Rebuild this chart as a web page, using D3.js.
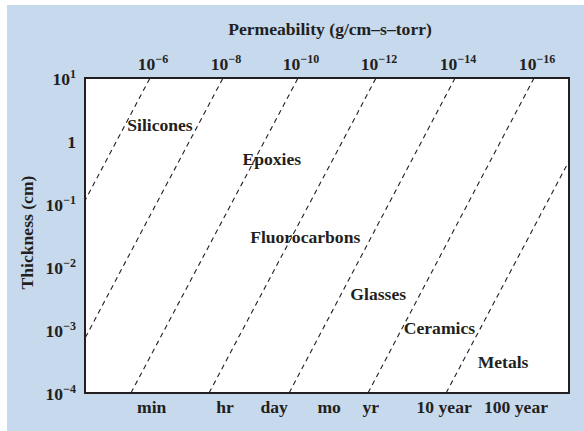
<!DOCTYPE html>
<html>
<head>
<meta charset="utf-8">
<script src="https://cdn.jsdelivr.net/npm/d3@7"></script>
<style>
  html, body { margin: 0; padding: 0; background: #ffffff; }
  svg text { font-family: "Liberation Serif", "Times New Roman", serif; font-weight: bold; fill: #231f20; }
</style>
</head>
<body>
<svg id="chart" width="584" height="431"></svg>
<script>
// ---- data ----
// y axis: thickness (cm), log scale, decades
const thicknessTicks = [10, 1, 0.1, 0.01, 0.001, 0.0001];
const thicknessTickExp = [1, 0, -1, -2, -3, -4];
// x axis: schematic log10(time in seconds)
const timeDomain = [0, 12.33];
const timeLabels = ["min", "hr", "day", "mo", "yr", "10 year", "100 year"];
const timeLabelValues = [1.70, 3.57, 4.82, 6.22, 7.28, 9.15, 10.98];
// permeability iso-lines (g/cm-s-torr)
const permeabilityExp = [-6, -8, -10, -12, -14, -16, -18];
const permeabilityLabeled = [true, true, true, true, true, true, false];
const lineTimeAtMinThickness = [-2.60, -0.74, 1.17, 3.16, 5.20, 7.21, 9.20]; // time at 1e-4 cm
const lineTimeAtMaxThickness = [1.656, 3.516, 5.427, 7.414, 9.427, 11.44, 13.45]; // time at 10 cm
// material region labels
const materials = ["Silicones", "Epoxies", "Fluorocarbons", "Glasses", "Ceramics", "Metals"];
const materialTime = [1.91, 4.76, 5.61, 7.47, 9.03, 10.65];
const materialThickness = [1.44, 0.42, 0.0238, 0.0030, 0.00086, 0.00025];

// ---- layout ----
const svg = d3.select("#chart");
const margin = { left: 85, top: 78, right: 15, bottom: 38 };
const W = 584, H = 431;
const x0 = margin.left, x1 = W - margin.right, y0 = margin.top, y1 = H - margin.bottom;
const FS = 17.6;

svg.append("rect").attr("x", 7).attr("y", 5).attr("width", W - 7).attr("height", H - 5)
  .attr("fill", "#c7d9ed");

const x = d3.scaleLinear().domain(timeDomain).range([x0, x1]);
const y = d3.scaleLog().domain([1e-4, 10]).range([y1, y0]);

// plot area
svg.append("rect").attr("x", x0).attr("y", y0).attr("width", x1 - x0).attr("height", y1 - y0)
  .attr("fill", "#ffffff");

svg.append("clipPath").attr("id", "clip")
  .append("rect").attr("x", x0).attr("y", y0).attr("width", x1 - x0).attr("height", y1 - y0);

const lines = permeabilityExp.map((p, i) => ({
  p, labeled: permeabilityLabeled[i],
  pts: [[lineTimeAtMinThickness[i], 1e-4], [lineTimeAtMaxThickness[i], 10]]
}));

const lineGen = d3.line().x(d => x(d[0])).y(d => y(d[1]));
svg.append("g").attr("clip-path", "url(#clip)")
  .selectAll("path").data(lines).join("path")
  .attr("d", d => lineGen(d.pts))
  .attr("fill", "none").attr("stroke", "#231f20").attr("stroke-width", 1.1)
  .attr("stroke-dasharray", "5,4");

// material labels
svg.append("g").selectAll("text").data(materials).join("text")
  .attr("x", (d, i) => x(materialTime[i]))
  .attr("y", (d, i) => y(materialThickness[i]))
  .attr("text-anchor", "middle").attr("font-size", FS)
  .text(d => d);

// frame
svg.append("rect").attr("x", x0).attr("y", y0).attr("width", x1 - x0).attr("height", y1 - y0)
  .attr("fill", "none").attr("stroke", "#231f20").attr("stroke-width", 2);

// top permeability labels
const topG = svg.append("g");
lines.filter(d => d.labeled).forEach(d => {
  const t = topG.append("text").attr("x", x(d.pts[1][0]) + 3).attr("y", 70)
    .attr("text-anchor", "middle").attr("font-size", FS);
  t.append("tspan").text("10");
  t.append("tspan").attr("font-size", 12).attr("dy", -7).text("\u2212" + Math.abs(d.p));
});

svg.append("text").attr("x", 330).attr("y", 35).attr("text-anchor", "middle")
  .attr("font-size", FS).text("Permeability (g/cm\u2013s\u2013torr)");

// y tick labels
thicknessTicks.forEach((v, i) => {
  const e = thicknessTickExp[i];
  const t = svg.append("text").attr("x", 76).attr("y", y(v) + 7)
    .attr("text-anchor", "end").attr("font-size", FS);
  if (e === 0) { t.text("1"); }
  else {
    t.append("tspan").text("10");
    t.append("tspan").attr("font-size", 12).attr("dy", -7)
      .text(e < 0 ? "\u2212" + Math.abs(e) : String(e));
  }
});

svg.append("text")
  .attr("transform", `translate(33,${(y0 + y1) / 2 - 3}) rotate(-90)`)
  .attr("text-anchor", "middle").attr("font-size", FS)
  .text("Thickness (cm)");

// x time labels
svg.append("g").selectAll("text").data(timeLabels).join("text")
  .attr("x", (d, i) => x(timeLabelValues[i]))
  .attr("y", 413)
  .attr("text-anchor", "middle").attr("font-size", FS)
  .text(d => d);
</script>
</body>
</html>
